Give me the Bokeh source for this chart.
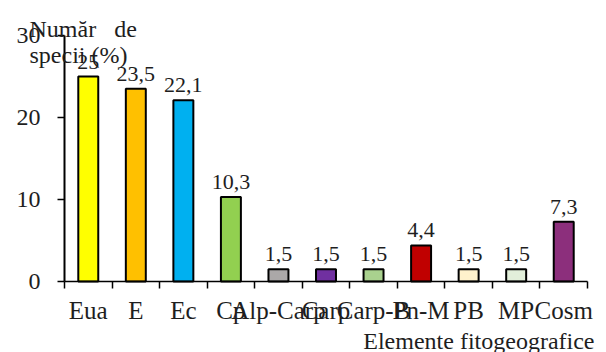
from bokeh.plotting import figure
from bokeh.models import FixedTicker, Range1d, Label, ColumnDataSource
from bokeh.embed import file_html
from bokeh.resources import INLINE
from bokeh.core.properties import value

categories = ["Eua", "E", "Ec", "Cp", "Alp-Carp", "Carp", "Carp-B", "Pn-M", "PB", "MP", "Cosm"]
values = [25, 23.5, 22.1, 10.3, 1.5, 1.5, 1.5, 4.4, 1.5, 1.5, 7.3]
colors = ["#FFFF00", "#FFC000", "#00B0F0", "#92D050", "#ABA8A8", "#7030A0",
          "#A9D18E", "#C00000", "#FFF2CC", "#E2EFDA", "#8C2F7C"]
y_ticks = [0, 10, 20, 30]
y_title = ["Număr\u00a0\u00a0\u00a0de", "specii (%)"]
x_title = "Elemente fitogeografice"

FONT = "Liberation Serif"
TXT = "#1e1e1e"
W, H = 606, 352
# plot-area placement (pixels): axis origin and extents
X0, X1, Y0, Y1 = 64, 587, 281, 35
n = len(categories)
ymax = y_ticks[-1]
ppx = (X1 - X0) / n
ppy = (Y0 - Y1) / ymax

xs = [i + 0.5 for i in range(n)]
labels = [("%g" % v).replace(".", ",") for v in values]
src = ColumnDataSource(dict(x=xs, top=values, color=colors, label=labels))

p = figure(width=W, height=H, output_backend="svg", toolbar_location=None,
           x_range=Range1d(-X0 / ppx, n + (W - X1) / ppx),
           y_range=Range1d(-(H - Y0) / ppy, ymax + Y1 / ppy),
           min_border=0)
p.outline_line_color = None
p.xgrid.visible = False
p.ygrid.visible = False
p.background_fill_color = "white"
p.border_fill_color = "white"

p.vbar(x="x", top="top", width=0.42, bottom=0, fill_color="color",
       line_color="black", line_width=2, source=src)
p.text(x="x", y="top", text="label", source=src, y_offset=-15,
       text_align="center", text_baseline="alphabetic",
       text_font=value(FONT), text_font_size="22px", text_color=TXT)

xa = p.xaxis[0]
xa.fixed_location = 0
xa.bounds = (0, n)
xa.ticker = FixedTicker(ticks=xs, minor_ticks=list(range(0, n + 1)))
xa.major_label_overrides = {x: c for x, c in zip(xs, categories)}
xa.major_tick_line_color = None
xa.minor_tick_out = 7
xa.minor_tick_in = 0
xa.minor_tick_line_color = "black"
xa.minor_tick_line_width = 1.5
xa.axis_line_color = "black"
xa.axis_line_width = 1.5
xa.major_label_text_font = FONT
xa.major_label_text_font_size = "25px"
xa.major_label_text_color = TXT
xa.major_label_standoff = 8

ya = p.yaxis[0]
ya.fixed_location = 0
ya.bounds = (0, ymax)
ya.ticker = FixedTicker(ticks=y_ticks)
ya.major_tick_out = 7
ya.major_tick_in = 0
ya.minor_tick_line_color = None
ya.major_tick_line_color = "black"
ya.major_tick_line_width = 1.5
ya.axis_line_color = "black"
ya.axis_line_width = 2
ya.major_label_text_font = FONT
ya.major_label_text_font_size = "24px"
ya.major_label_text_color = TXT
ya.major_label_standoff = 17

for i, t in enumerate(y_title):
    p.add_layout(Label(x=29, y=H - 28 - 26 * i, x_units="screen", y_units="screen",
                       text=t, text_font=FONT, text_font_size="24px",
                       text_color=TXT, text_baseline="alphabetic", text_align="left"))

p.add_layout(Label(x=594, y=H - 340, x_units="screen", y_units="screen",
                   text=x_title, text_font=FONT, text_font_size="24px",
                   text_color=TXT, text_baseline="alphabetic", text_align="right"))

open("out.html", "w").write(file_html(p, INLINE))
